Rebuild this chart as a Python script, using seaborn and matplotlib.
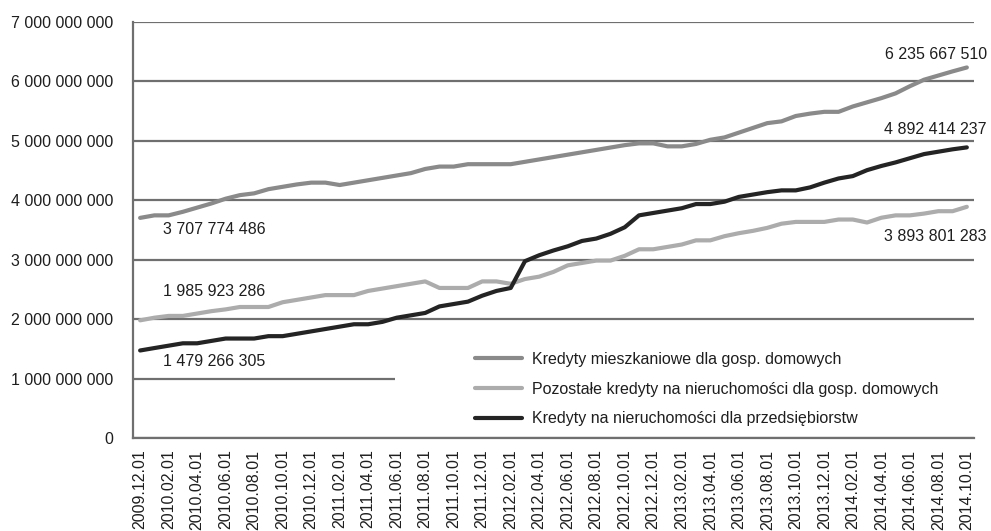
import matplotlib
matplotlib.use("Agg")
import matplotlib.pyplot as plt
from matplotlib.patches import Rectangle
from matplotlib.ticker import FuncFormatter, FixedLocator
import pandas as pd
import seaborn as sns

# Monthly observations, December 2009 - October 2014 (billions PLN)
months = pd.date_range("2009-12-01", periods=59, freq="MS").strftime("%Y.%m.%d").tolist()

mieszkaniowe = [
    3.707774486, 3.75, 3.75, 3.81, 3.88, 3.95, 4.03, 4.09, 4.12, 4.19,
    4.23, 4.27, 4.30, 4.30, 4.26, 4.30, 4.34, 4.38, 4.42, 4.46,
    4.53, 4.57, 4.57, 4.61, 4.61, 4.61, 4.61, 4.65, 4.69, 4.73,
    4.77, 4.81, 4.85, 4.89, 4.93, 4.96, 4.96, 4.91, 4.91, 4.95,
    5.02, 5.06, 5.14, 5.22, 5.30, 5.33, 5.42, 5.46, 5.49, 5.49,
    5.58, 5.65, 5.72, 5.80, 5.92, 6.03, 6.10, 6.17, 6.23566751,
]
pozostale = [
    1.985923286, 2.03, 2.06, 2.06, 2.10, 2.14, 2.17, 2.21, 2.21, 2.21,
    2.29, 2.33, 2.37, 2.41, 2.41, 2.41, 2.48, 2.52, 2.56, 2.60,
    2.64, 2.53, 2.53, 2.53, 2.64, 2.64, 2.60, 2.68, 2.72, 2.80,
    2.91, 2.95, 2.99, 2.99, 3.07, 3.18, 3.18, 3.22, 3.26, 3.33,
    3.33, 3.40, 3.45, 3.49, 3.54, 3.61, 3.64, 3.64, 3.64, 3.68,
    3.68, 3.63, 3.71, 3.75, 3.75, 3.78, 3.82, 3.82, 3.893801283,
]
przedsiebiorstwa = [
    1.479266305, 1.52, 1.56, 1.60, 1.60, 1.64, 1.68, 1.68, 1.68, 1.72,
    1.72, 1.76, 1.80, 1.84, 1.88, 1.92, 1.92, 1.96, 2.03, 2.07,
    2.11, 2.22, 2.26, 2.30, 2.40, 2.48, 2.53, 2.98, 3.08, 3.16,
    3.23, 3.32, 3.36, 3.44, 3.55, 3.75, 3.79, 3.83, 3.87, 3.94,
    3.94, 3.98, 4.06, 4.10, 4.14, 4.17, 4.17, 4.22, 4.30, 4.37,
    4.41, 4.51, 4.58, 4.64, 4.71, 4.78, 4.82, 4.86, 4.892414237,
]

series_names = [
    "Kredyty mieszkaniowe dla gosp. domowych",
    "Pozostałe kredyty na nieruchomości dla gosp. domowych",
    "Kredyty na nieruchomości dla przedsiębiorstw",
]
series_values = [mieszkaniowe, pozostale, przedsiebiorstwa]
series_colors = ["#8a8a8a", "#acacac", "#242424"]

rows = []
for name, vals in zip(series_names, series_values):
    for i, (m, v) in enumerate(zip(months, vals)):
        rows.append({"idx": i, "miesiac": m, "seria": name, "wartosc": round(v * 1e9)})
df = pd.DataFrame(rows)

sns.set_style("white")
plt.rcParams["font.family"] = ["Liberation Sans", "DejaVu Sans"]

fig = plt.figure(figsize=(9.91, 5.31), dpi=100)
ax = fig.add_axes([0.1342, 0.1742, 0.8486, 0.7844])

GRID = "#6f6f6f"
TXT = "#1e1e1e"
FS = 11.5

sns.lineplot(
    data=df, x="idx", y="wartosc", hue="seria", hue_order=series_names,
    palette=dict(zip(series_names, series_colors)), linewidth=3.0,
    estimator=None, ax=ax, zorder=3,
)
for ln in ax.get_lines():
    ln.set_solid_joinstyle("round")
    ln.set_solid_capstyle("round")

n = len(months)
ax.set_xlim(-0.5, n - 0.5)
ax.set_ylim(0, 7e9)

# y axis
ax.set_yticks([k * 1e9 for k in range(8)])
ax.yaxis.set_major_formatter(FuncFormatter(lambda v, p: f"{int(round(v)):,}".replace(",", " ")))
ax.yaxis.grid(True, color=GRID, linewidth=1.6)
ax.set_axisbelow(True)

# x axis: tick marks on category boundaries, labels on every second month
ax.xaxis.set_major_locator(FixedLocator([i - 0.5 for i in range(0, n, 2)]))
ax.xaxis.set_major_formatter(FuncFormatter(lambda v, p: ""))
ax.xaxis.set_minor_locator(FixedLocator(list(range(0, n, 2))))
ax.set_xticklabels([months[i] for i in range(0, n, 2)], minor=True)
ax.tick_params(axis="x", which="major", length=5.5, width=1.6, color=GRID, direction="out")
ax.tick_params(axis="x", which="minor", length=0, pad=8, labelrotation=90,
               labelsize=FS, labelcolor=TXT)
ax.tick_params(axis="y", length=5, width=1.6, color=GRID, direction="out",
               pad=9, labelsize=FS, labelcolor=TXT)
ax.set_xlabel("")
ax.set_ylabel("")

for side in ["top", "right"]:
    ax.spines[side].set_visible(False)
for side in ["left", "bottom"]:
    ax.spines[side].set_color(GRID)
    ax.spines[side].set_linewidth(1.6)

# white panel behind the legend
ax.add_patch(Rectangle((0.3115, 0.02), 0.69, 0.235, transform=ax.transAxes,
                       facecolor="white", edgecolor="none", zorder=1))
leg = ax.legend(
    loc="upper left", bbox_to_anchor=(0.4067, 0.208), frameon=False,
    handlelength=2.95, handletextpad=0.62, labelspacing=0.92,
    borderpad=0, borderaxespad=0, fontsize=FS, labelcolor=TXT,
)
for h in leg.get_lines():
    h.set_linewidth(3.0)

# start and end value labels
def fmt(v):
    return f"{int(round(v * 1e9)):,}".replace(",", " ")

start_offsets = [(23, -12), (23, 29), (23, -11)]
end_offsets = [(20, 13), (20, -30), (20, 18)]
for vals, so, eo in zip(series_values, start_offsets, end_offsets):
    ax.annotate(fmt(vals[0]), xy=(0, vals[0] * 1e9), xytext=so, textcoords="offset pixels",
                ha="left", va="center", fontsize=FS, color=TXT)
    ax.annotate(fmt(vals[-1]), xy=(n - 1, vals[-1] * 1e9), xytext=eo, textcoords="offset pixels",
                ha="right", va="center", fontsize=FS, color=TXT, annotation_clip=False)

fig.savefig("out.png", dpi=100)
